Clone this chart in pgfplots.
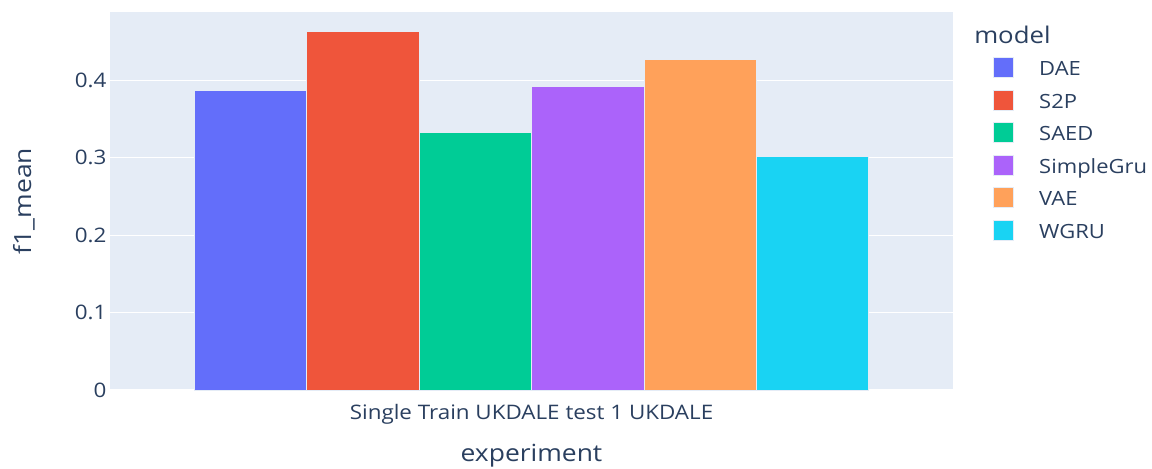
\documentclass[border=0pt]{standalone}
\usepackage{fontspec}
\setmainfont{Open Sans}[FakeStretch=1.12]
\usepackage{pgfplots}
\pgfplotsset{compat=1.18}
\definecolor{bg}{HTML}{E5ECF6}
\definecolor{txt}{HTML}{2A3F5F}
\definecolor{cDAE}{HTML}{636EFA}
\definecolor{cS2P}{HTML}{EF553B}
\definecolor{cSAED}{HTML}{00CC96}
\definecolor{cGru}{HTML}{AB63FA}
\definecolor{cVAE}{HTML}{FFA15A}
\definecolor{cWGRU}{HTML}{19D3F3}
\begin{document}
\begin{tikzpicture}
\useasboundingbox (-82.5pt,-58.5pt) rectangle (781.5pt,292.5pt);
\begin{axis}[
  at={(0pt,0pt)}, anchor=south west,
  scale only axis, width=632.25pt, height=283.5pt,
  axis background/.style={fill=bg},
  axis line style={draw=none},
  tick style={draw=none},
  ymajorgrids, major grid style={white, line width=0.8pt},
  xmin=-0.5, xmax=0.5, ymin=0, ymax=0.4884,
  ytick={0,0.1,0.2,0.3,0.4}, yticklabels={0,0.1,0.2,0.3,0.4},
  xtick={0}, xticklabels={Single Train UKDALE test 1 UKDALE},
  ticklabel style={font=\fontsize{15}{18}\selectfont, text=txt},
  yticklabel style={inner sep=0pt, xshift=-2.5pt},
  xticklabel style={anchor=base, inner sep=0pt, yshift=-18pt},
  xlabel={experiment}, ylabel={f1\_mean},
  label style={font=\fontsize{17.7}{21}\selectfont, text=txt},
  xlabel style={at={(axis description cs:0.5,0)}, anchor=base, inner sep=0pt, yshift=-53.25pt},
  ylabel style={at={(axis description cs:-0.1020,0.5)}, anchor=center},
  clip=false,
  ybar, bar width=0.13333,
  legend image code/.code={\fill[#1] (0pt,-7.5pt) rectangle (15pt,7.5pt); \path[draw=none,fill=none] (0pt,0pt) -- (34.5pt,0pt);},
  legend cell align=left,
  legend style={at={(rel axis cs:1.0474,0.8846)}, anchor=north west, draw=none, fill=none,
    inner sep=0pt, outer sep=0pt, row sep=6.4pt, column sep=0pt,
    font=\fontsize{14.7}{17}\selectfont, text=txt,
    nodes={inner sep=0pt, outer sep=0pt, text height=15pt, text depth=3pt}},
]
\addplot[fill=cDAE, draw=bg, line width=0.4pt, bar shift=0pt] coordinates {(-0.33333,0.387)};
\addlegendentry{DAE}
\addplot[fill=cS2P, draw=bg, line width=0.4pt, bar shift=0pt] coordinates {(-0.2,0.4635)};
\addlegendentry{S2P}
\addplot[fill=cSAED, draw=bg, line width=0.4pt, bar shift=0pt] coordinates {(-0.066667,0.333)};
\addlegendentry{SAED}
\addplot[fill=cGru, draw=bg, line width=0.4pt, bar shift=0pt] coordinates {(0.066667,0.392)};
\addlegendentry{SimpleGru}
\addplot[fill=cVAE, draw=bg, line width=0.4pt, bar shift=0pt] coordinates {(0.2,0.427)};
\addlegendentry{VAE}
\addplot[fill=cWGRU, draw=bg, line width=0.4pt, bar shift=0pt] coordinates {(0.33333,0.302)};
\addlegendentry{WGRU}
\node[anchor=base west, inner sep=0pt, font=\fontsize{17.25}{20}\selectfont, text=txt] at (rel axis cs:1.0249,0.917) {model};
\end{axis}
\end{tikzpicture}
\end{document}
